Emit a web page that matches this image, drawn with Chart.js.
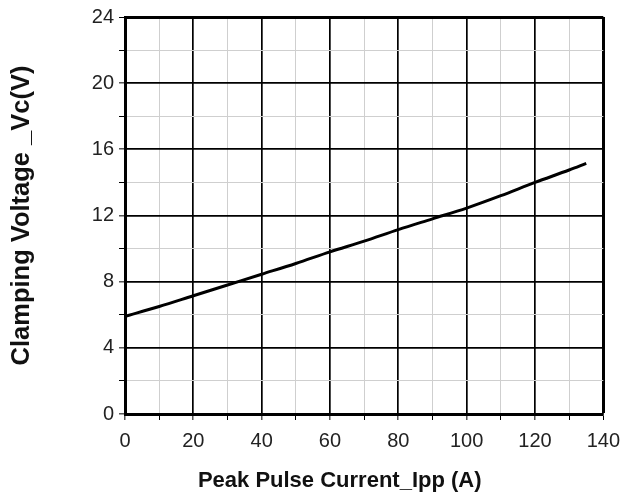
<!DOCTYPE html>
<html>
<head>
<meta charset="utf-8">
<script src="https://cdn.jsdelivr.net/npm/chart.js@4.4.1/dist/chart.umd.min.js"></script>
<style>
  html, body { margin: 0; padding: 0; background: #fff; }
  #wrap { width: 629px; height: 497px; position: relative; }
</style>
</head>
<body>
<div id="wrap"><canvas id="vcChart"></canvas></div>
<script>
// Peak pulse current (A) vs clamping voltage (V)
const currents = [0, 10, 20, 30, 40, 50, 60, 70, 80, 90, 100, 110, 120, 130, 135];
const voltages = [5.9, 6.5, 7.15, 7.8, 8.45, 9.1, 9.8, 10.45, 11.15, 11.8, 12.45, 13.2, 14.0, 14.75, 15.15];

const xTicks = [0, 20, 40, 60, 80, 100, 120, 140];
const yTicks = [0, 4, 8, 12, 16, 20, 24];

// trailing spaces keep the title a little left of the plot centre, as in the original
const xTitle = "Peak Pulse Current_Ipp (A)\u00a0\u00a0\u00a0\u00a0\u00a0\u00a0\u00a0\u00a0";
const yTitle = "Clamping Voltage _Vc(V)";

const fontFamily = "'Liberation Sans', Arial, sans-serif";
const majorColor = "#000";
const minorColor = "#cfcfcf";

const points = currents.map((x, i) => ({ x: x, y: voltages[i] }));

// major lines black, minor ones light grey, outer frame thick
const gridFor = (majors, max) => ({
  color: (c) => (majors.includes(c.tick.value) ? majorColor : minorColor),
  lineWidth: (c) => (c.tick.value === max ? 3 : majors.includes(c.tick.value) ? 1.7 : 1),
  tickColor: "#000",
  tickLength: 6,
  tickWidth: 1
});

new Chart(document.getElementById("vcChart"), {
  type: "scatter",
  data: {
    datasets: [{
      data: points,
      showLine: true,
      borderColor: "#000",
      borderWidth: 3,
      pointRadius: 0,
      cubicInterpolationMode: "monotone"
    }]
  },
  options: {
    responsive: true,
    maintainAspectRatio: false,
    animation: false,
    layout: { padding: { top: 15, right: 24, left: 0, bottom: 0 } },
    plugins: { legend: { display: false }, tooltip: { enabled: false } },
    scales: {
      x: {
        type: "linear",
        min: 0,
        max: 140,
        afterFit: (s) => { s.height = 83; },
        grid: gridFor(xTicks, 140),
        border: { color: "#000", width: 3 },
        ticks: {
          stepSize: 10,
          autoSkip: false,
          maxRotation: 0,
          padding: 9,
          color: "#222",
          font: { family: fontFamily, size: 20 },
          callback: (v) => (xTicks.includes(v) ? String(v) : "")
        },
        title: {
          display: true,
          text: xTitle,
          color: "#111",
          font: { family: fontFamily, size: 22, weight: "bold" },
          padding: { top: 0, bottom: 3 }
        }
      },
      y: {
        type: "linear",
        min: 0,
        max: 24,
        afterFit: (s) => { s.width = 125; },
        grid: gridFor(yTicks, 24),
        border: { color: "#000", width: 3 },
        ticks: {
          stepSize: 2,
          autoSkip: false,
          padding: 5,
          color: "#222",
          font: { family: fontFamily, size: 20 },
          callback: (v) => (yTicks.includes(v) ? String(v) : "")
        },
        title: {
          display: true,
          text: yTitle,
          color: "#111",
          font: { family: fontFamily, size: 25.5, weight: "bold" },
          padding: { top: 7, bottom: 0 }
        }
      }
    }
  }
});
</script>
</body>
</html>
